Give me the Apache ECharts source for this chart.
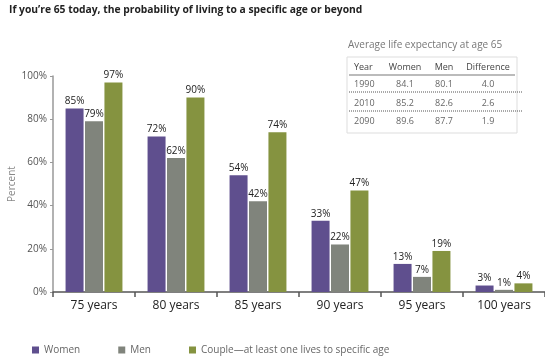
<!DOCTYPE html>
<html><head><meta charset="utf-8">
<script src="https://cdn.jsdelivr.net/npm/echarts@6/dist/echarts.min.js"></script>
<style>html,body{margin:0;padding:0;background:#fff}#c{width:545px;height:357px}</style>
</head><body><div id="c"></div>
<script>
var categories = ['75 years','80 years','85 years','90 years','95 years','100 years'];
var women = [85,72,54,33,13,3];
var men = [79,62,42,22,7,1];
var couple = [97,90,74,47,19,4];
var yTicks = [0,20,40,60,80,100];
var yAxisTitle = 'Percent';
var tableTitle = 'Average life expectancy at age 65';
var tableHeader = ['Year','Women','Men','Difference'];
var tableYears = ['1990','2010','2090'];
var tableWomen = ['84.1','85.2','89.6'];
var tableMen = ['80.1','82.6','87.7'];
var tableDiff = ['4.0','2.6','1.9'];

var FONT = 'Open Sans';
var chart = echarts.init(document.getElementById('c'));

// table graphic
var g = [];
var tx = 347, ty = 57, tw = 170, th = 76;
g.push({type:'text', x: 12, y: 184, rotation: Math.PI/2, style:{text: yAxisTitle, fill:'#888', font:'10px "'+FONT+'"', textAlign:'center', textVerticalAlign:'middle'}});
g.push({type:'text', left: 348, top: 40, style:{text: tableTitle, fill:'#777', font:'10px "'+FONT+'"'}});
g.push({type:'rect', shape:{x:tx, y:ty, width:tw, height:th}, style:{fill:'#fff', stroke:'#ddd', lineWidth:1}});
g.push({type:'line', shape:{x1:tx+2, y1:ty+18, x2:tx+tw-2, y2:ty+18}, style:{stroke:'#bbb', lineWidth:2}});
g.push({type:'line', shape:{x1:tx+2, y1:ty+35, x2:tx+tw+6, y2:ty+35}, style:{stroke:'#555', lineWidth:1, lineDash:[1,1]}});
g.push({type:'line', shape:{x1:tx+2, y1:ty+54, x2:tx+tw+6, y2:ty+54}, style:{stroke:'#555', lineWidth:1, lineDash:[1,1]}});
var colX = [354, 405, 444, 488];
var colAlign = ['left','center','center','center'];
var rowY = [67, 84, 103, 121];
tableHeader.forEach(function(h,i){
  g.push({type:'text', x: colX[i], y: rowY[0], style:{text:h, fill:'#444', font:'9px "'+FONT+'"', textAlign: colAlign[i], textVerticalAlign:'middle'}});
});
for (var r=0;r<tableYears.length;r++){
  var vals=[tableYears[r], tableWomen[r], tableMen[r], tableDiff[r]];
  vals.forEach(function(v,i){
    g.push({type:'text', x: colX[i], y: rowY[r+1], style:{text:v, fill:'#666', font:'9px "'+FONT+'"', textAlign: colAlign[i], textVerticalAlign:'middle'}});
  });
}

var lbl = {show:true, position:'top', distance:2, formatter:'{c}%', color:'#222', fontSize:10, fontFamily: FONT};
function ser(name, data, color){
  return {name:name, type:'bar', data:data, barWidth:18, barGap:'8%', itemStyle:{color:color}, label:lbl};
}
chart.setOption({
  animation:false,
  textStyle:{fontFamily: FONT},
  title:{text:"If you\u2019re 65 today, the probability of living to a specific age or beyond", left:4, top:0,
    textStyle:{fontSize:10.3, fontWeight:'bold', color:'#222', fontFamily: FONT}},
  legend:{left:32, top:345, padding:0, itemWidth:7, itemHeight:7, itemGap:38, icon:'rect',
    textStyle:{color:'#666', fontSize:10, fontFamily: FONT},
    data:['Women','Men','Couple\u2014at least one lives to specific age']},
  grid:{left:53, right:0, top:76, bottom:65, containLabel:false, outerBoundsMode:'none'},
  xAxis:{type:'category', data:categories,
    axisLine:{lineStyle:{color:'#555', width:1.5}},
    axisTick:{show:true, length:5, lineStyle:{color:'#555', width:1.5}},
    axisLabel:{color:'#222', fontSize:12, margin:8, fontFamily: FONT}},
  yAxis:{type:'value', min:0, max:100, interval:20,
    axisLine:{show:true, lineStyle:{color:'#999', width:1.5}},
    axisTick:{show:true, length:3, lineStyle:{color:'#999'}},
    splitLine:{show:false},
    axisLabel:{formatter:'{value}%', color:'#555', fontSize:10, margin:6, fontFamily: FONT}},
  series:[ser('Women', women, '#5f4f8e'), ser('Men', men, '#80847c'), ser('Couple\u2014at least one lives to specific age', couple, '#859340')],
  graphic: g
});
</script></body></html>
